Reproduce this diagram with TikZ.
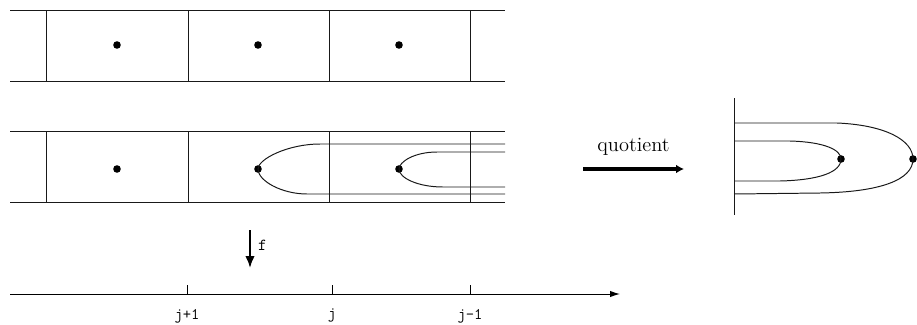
\documentclass[tikz,border=0pt]{standalone}
\usepackage{tikz}
\usetikzlibrary{arrows.meta, positioning, calc}
\tikzset{
  celda/.style={line width=0.7pt, black!90},
  ptdot/.style={circle, fill=black, inner sep=0pt, minimum size=0.19cm},
  curva/.style={line width=0.7pt, black!90},
  axtick/.style={line width=0.7pt},
  ticklab/.style={font=\ttfamily\fontsize{11.5}{13}\selectfont, anchor=north},
  flecha/.style={-{Latex[length=3mm, width=2.4mm]}, line width=1.5pt},
  qflecha/.style={-{Latex[length=2mm, width=2.2mm]}, line width=2.6pt}
}
\begin{document}
\begin{tikzpicture}[x=0.025cm, y=-0.025cm]
  \useasboundingbox (0,0) rectangle (917,324);
  % two strips of cells
  \foreach \ya/\yb/\nm in {10/81/t, 131/202/m} {
    \draw[celda] (10,\ya) -- (505,\ya);
    \draw[celda] (10,\yb) -- (505,\yb);
    \foreach \x in {46,188,329,470}
      \draw[celda] (\x,\ya) -- (\x,\yb);
  }
  % dots
  \foreach \x [count=\i] in {117,258,399} {
    \node[ptdot] (t\i) at (\x,45) {};
    \node[ptdot] (m\i) at (\x,169) {};
  }
  % curves through the dots
  \draw[curva] (505,144) -- (320,144) .. controls (288,144) and (258,159) .. (m2.center)
               .. controls (258,181) and (282,194) .. (307,194) -- (505,194);
  \draw[curva] (505,152) -- (437,152) .. controls (414,152) and (399,162) .. (m3.center)
               .. controls (399,178) and (418,187) .. (443,187) -- (505,187);
  % quotient
  \coordinate (q1) at (583,169);
  \coordinate (q2) at (684,169);
  \draw[qflecha] (q1) -- (q2);
  \node[font=\fontsize{14.5}{16}\selectfont, above=0.22cm] at ($(q1)!0.5!(q2)$) (qlab) {quotient};
  % quotient picture
  \coordinate (v1) at (734,98);
  \coordinate (v2) at (734,215);
  \draw[celda] (v1) -- (v2);
  \node[ptdot] (r1) at (841,159) {};
  \node[ptdot] (r2) at (913,159) {};
  \draw[curva] (734,123) -- (837,123) .. controls (885,125) and (913,140) .. (r2.center)
               .. controls (913,180) and (880,192) .. (820,193) -- (734,194);
  \draw[curva] (734,141) -- (790,141) .. controls (825,142) and (841,150) .. (r1.center)
               .. controls (841,172) and (820,180) .. (780,181) -- (734,181);
  % map f
  \coordinate (f1) at (250,230);
  \coordinate (f2) at (250,268);
  \draw[flecha] (f1) -- (f2);
  \node[font=\ttfamily\fontsize{12}{13}\selectfont, right=0.08cm] at ($(f1)!0.4!(f2)$) (flab) {f};
  % axis
  \coordinate (a0) at (10,294);
  \coordinate (a1) at (620,294);
  \draw[axtick, -{Latex[length=2.5mm, width=1.6mm]}] (a0) -- (a1);
  \foreach \x/\lab in {187/j+1, 332/j, 470/j-1} {
    \draw[axtick] (\x,285) -- (\x,294);
    \node[ticklab] at (\x,304) {\lab};
  }
\end{tikzpicture}
\end{document}
